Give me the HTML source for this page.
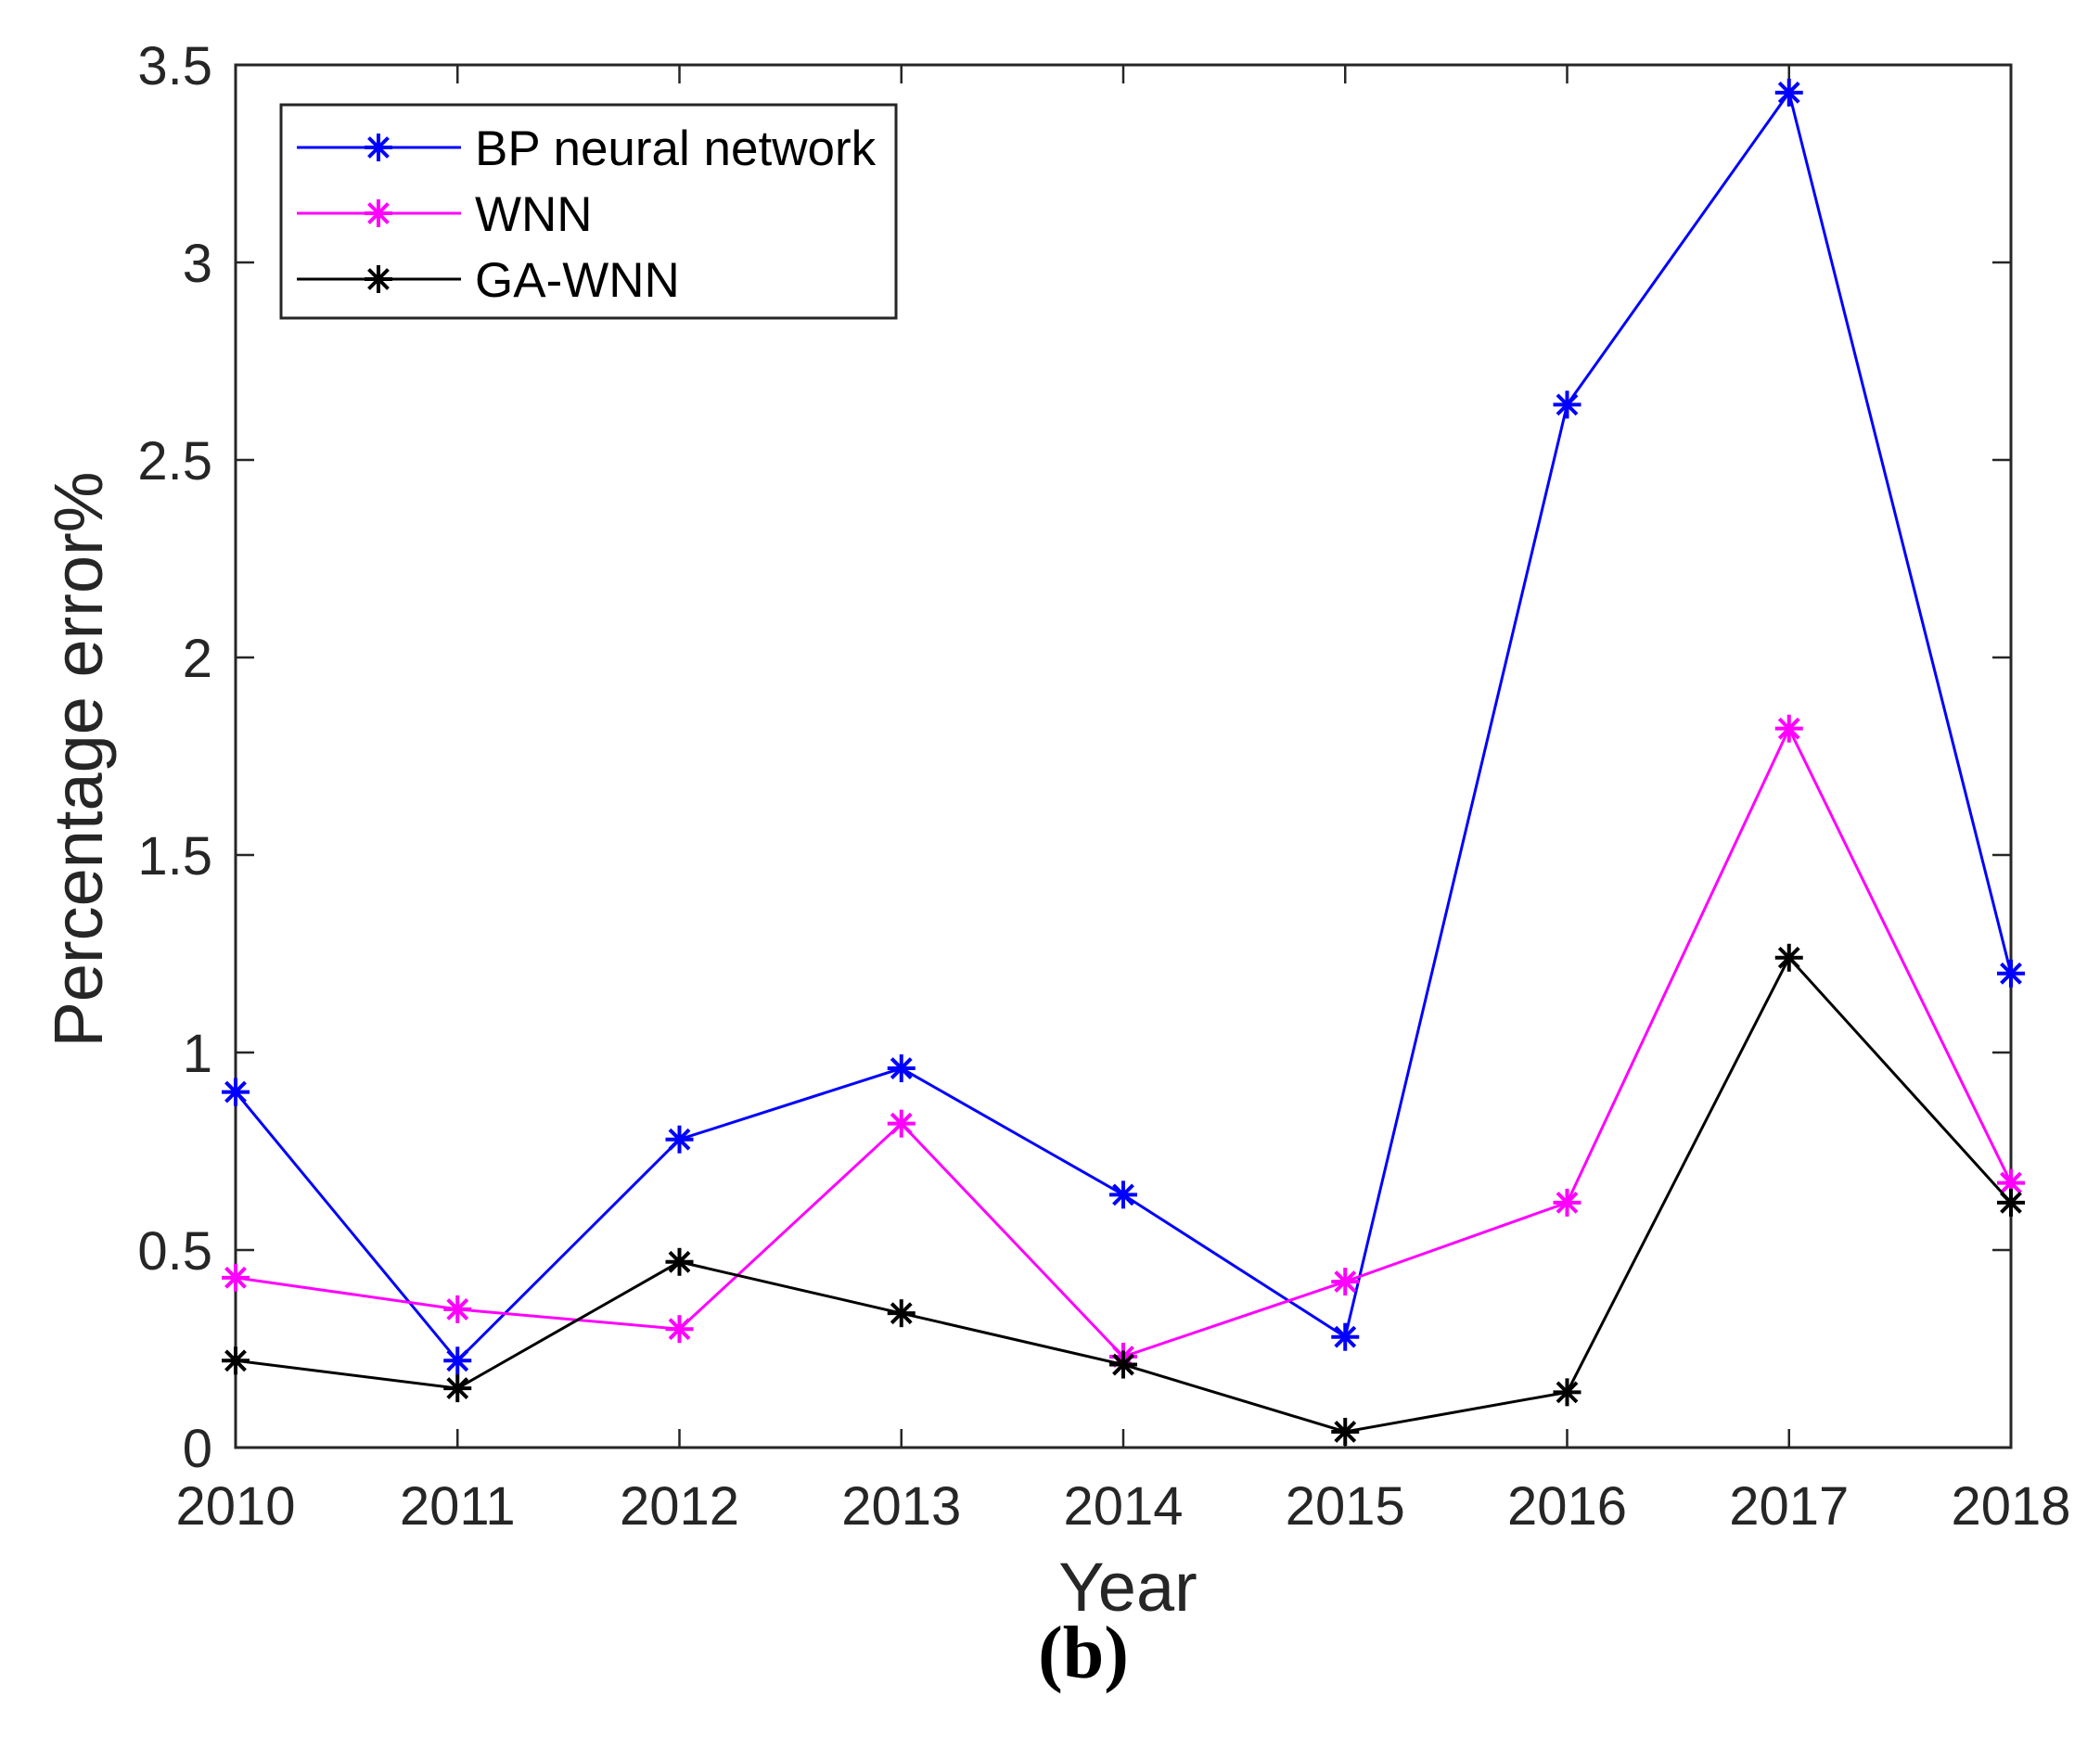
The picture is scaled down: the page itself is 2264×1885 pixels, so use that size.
<!DOCTYPE html>
<html><head><meta charset="utf-8"><style>
html,body{margin:0;padding:0;background:#fff;}
svg{display:block;font-family:"Liberation Sans",Arial,sans-serif;}
</style></head><body>
<svg id="chart" width="2264" height="1885" viewBox="0 0 2264 1885" xmlns="http://www.w3.org/2000/svg">
<rect x="0" y="0" width="2264" height="1885" fill="#fff"/>
<g id="plot"></g>
<text x="1216" y="1737" font-size="74" fill="#262626" text-anchor="middle">Year</text>
<text x="0" y="0" font-size="74" fill="#262626" text-anchor="middle" transform="translate(110,819) rotate(-90)">Percentage error%</text>
<text x="1168" y="1809" font-size="80" font-weight="bold" font-family="Liberation Serif,serif" fill="#000" text-anchor="middle">(b)</text>
</svg>
<script>
const years = [2010, 2011, 2012, 2013, 2014, 2015, 2016, 2017, 2018];
const yTicks = [0, 0.5, 1, 1.5, 2, 2.5, 3, 3.5];
const yTickLabels = ["0", "0.5", "1", "1.5", "2", "2.5", "3", "3.5"];
const bpValues = [0.90, 0.22, 0.78, 0.96, 0.64, 0.28, 2.64, 3.43, 1.20];
const wnnValues = [0.43, 0.35, 0.30, 0.82, 0.23, 0.42, 0.62, 1.82, 0.67];
const gaWnnValues = [0.22, 0.15, 0.47, 0.34, 0.21, 0.04, 0.14, 1.24, 0.62];
const seriesNames = ["BP neural network", "WNN", "GA-WNN"];
const seriesColors = ["#0000ff", "#ff00ff", "#000000"];

const L = 254, R = 2168, T = 70, B = 1561;
const ns = "http://www.w3.org/2000/svg";
function xs(v){ return L + (v - years[0]) / (years[years.length-1] - years[0]) * (R - L); }
function ys(v){ return B - v / 3.5 * (B - T); }
const g = document.getElementById('plot');
function mk(tag, attrs, parent){
  const e = document.createElementNS(ns, tag);
  for (const k in attrs) e.setAttribute(k, attrs[k]);
  (parent || g).appendChild(e);
  return e;
}
function star(cx, cy, color, parent, nm){
  const s = mk('g', {stroke: color, 'stroke-width': 4}, parent);
  
  
  const r = 15;
  mk('line', {x1: cx, y1: cy - r, x2: cx, y2: cy + r}, s);
  mk('line', {x1: cx - r, y1: cy, x2: cx + r, y2: cy}, s);
  mk('line', {x1: cx - r*0.7, y1: cy - r*0.7, x2: cx + r*0.7, y2: cy + r*0.7}, s);
  mk('line', {x1: cx - r*0.7, y1: cy + r*0.7, x2: cx + r*0.7, y2: cy - r*0.7}, s);
}
years.forEach((yr, i) => {
  const x = xs(yr);
  const t1 = mk('line', {x1: x, y1: B, x2: x, y2: B - 20, stroke: '#262626', 'stroke-width': 2.5});
  
  
  const t2 = mk('line', {x1: x, y1: T, x2: x, y2: T + 20, stroke: '#262626', 'stroke-width': 2.5});
  
  
  const lb = mk('text', {x: x, y: B + 83, 'font-size': 58, fill: '#262626', 'text-anchor': 'middle'});
  lb.textContent = String(yr);
  
  
});
yTicks.forEach((v, i) => {
  const y = ys(v);
  const t1 = mk('line', {x1: L, y1: y, x2: L + 20, y2: y, stroke: '#262626', 'stroke-width': 2.5});
  
  
  const t2 = mk('line', {x1: R, y1: y, x2: R - 20, y2: y, stroke: '#262626', 'stroke-width': 2.5});
  
  
  const lb = mk('text', {x: L - 25, y: y + 21, 'font-size': 58, fill: '#262626', 'text-anchor': 'end'});
  lb.textContent = yTickLabels[i];
  
  
});
const box = mk('rect', {x: L, y: T, width: R - L, height: B - T, fill: 'none', stroke: '#262626', 'stroke-width': 3});


const allSeries = [bpValues, wnnValues, gaWnnValues];
const seriesKeys = ['bp', 'wnn', 'ga-wnn'];
allSeries.forEach((vals, si) => {
  const pts = vals.map((v, i) => xs(years[i]) + ',' + ys(v)).join(' ');
  const pl = mk('polyline', {points: pts, fill: 'none', stroke: seriesColors[si], 'stroke-width': 3});
  
  
  vals.forEach((v, i) => star(xs(years[i]), ys(v), seriesColors[si], g, seriesKeys[si] + '-marker'));
});
const lg = mk('g', {});


mk('rect', {x: 303, y: 113, width: 663, height: 230, fill: '#fff', stroke: '#262626', 'stroke-width': 3}, lg);
const legY = [159, 230, 301];
seriesNames.forEach((nm, si) => {
  const e = mk('g', {}, lg);
  
  
  mk('line', {x1: 320, y1: legY[si], x2: 497, y2: legY[si], stroke: seriesColors[si], 'stroke-width': 3}, e);
  star(408, legY[si], seriesColors[si], e, 'legend-marker');
  const t = mk('text', {x: 512, y: legY[si] + 19, 'font-size': 53, fill: '#000'}, e);
  t.textContent = nm;
});
</script>
</body></html>
